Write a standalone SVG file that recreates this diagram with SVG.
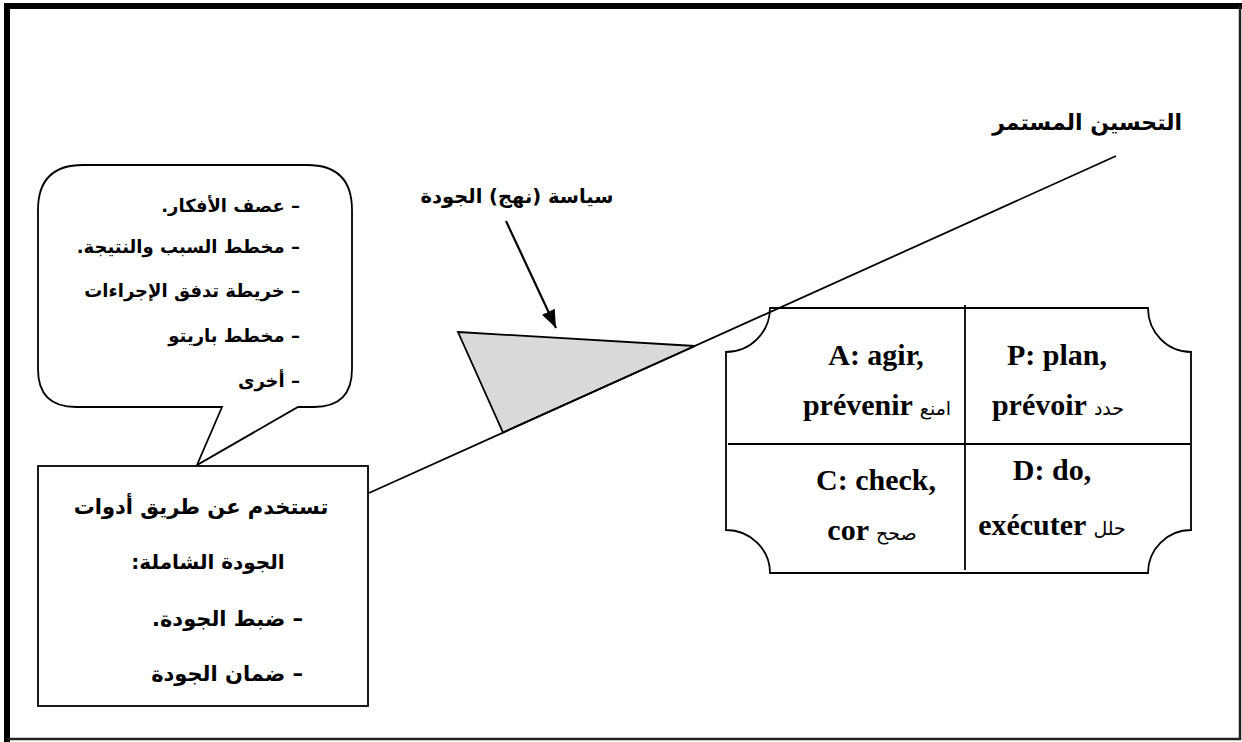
<svg xmlns="http://www.w3.org/2000/svg" width="1242" height="742" viewBox="0 0 1242 742">
<style>
.ar{font-family:"DejaVu Sans",sans-serif;font-weight:bold;fill:#000}
.arr{font-family:"DejaVu Sans",sans-serif;font-weight:normal;fill:#000}
.lat{font-family:"Liberation Serif","Times New Roman",serif;font-weight:bold;fill:#000}
.ln{fill:none;stroke:#000;stroke-width:1.8}
</style>
<defs>
<marker id="ahs" viewBox="0 0 18 14" refX="18" refY="7" markerWidth="18" markerHeight="14" markerUnits="userSpaceOnUse" orient="auto">
<path d="M0,0 L18,7 L0,14 z" fill="#000"/>
</marker>
</defs>
<rect width="1242" height="742" fill="#fff"/>
<g id="frame">
<path d="M7,742 V6 H1242" fill="none" stroke="#000" stroke-width="6"/>
<path d="M1240,6 V739 H7" fill="none" stroke="#222" stroke-width="2.5"/>
</g>
<g id="policy">
<polygon points="458,332 695,346 503,432.5" fill="#d9d9d9" stroke="#000" stroke-width="1.8" stroke-linejoin="miter"/>
<text class="ar" x="517" y="203" font-size="19.5" text-anchor="middle" direction="rtl">سياسة (نهج) الجودة</text>
</g>
<g id="connectors">
<line class="ln" x1="369" y1="493" x2="1116" y2="156"/>
<line x1="506" y1="221" x2="556" y2="328" stroke="#000" stroke-width="2.2" marker-end="url(#ahs)"/>
</g>
<g id="title">
<text class="ar" x="1182" y="130" font-size="22" direction="rtl" text-anchor="start">التحسين المستمر</text>
</g>
<g id="callout">
<path class="ln" d="M222,407 L197,465 L298,407 H314 Q352,407 352,369 V210 Q352,165 307,165 H83 Q38,165 38,210 V369 Q38,407 76,407 Z" stroke-linejoin="miter"/>
<text class="ar" x="300" y="212" font-size="18" direction="rtl" text-anchor="start">– عصف الأفكار.</text>
<text class="ar" x="300" y="253" font-size="18" direction="rtl" text-anchor="start">– مخطط السبب والنتيجة.</text>
<text class="ar" x="300" y="297" font-size="18" direction="rtl" text-anchor="start">– خريطة تدفق الإجراءات</text>
<text class="ar" x="300" y="342" font-size="18" direction="rtl" text-anchor="start">– مخطط باريتو</text>
<text class="ar" x="300" y="387" font-size="18" direction="rtl" text-anchor="start">– أخرى</text>
</g>
<g id="tools-box">
<rect class="ln" x="38" y="466" width="330" height="240"/>
<text class="ar" x="201" y="514" font-size="21" direction="rtl" text-anchor="middle">تستخدم عن طريق أدوات</text>
<text class="ar" x="208" y="569" font-size="20" direction="rtl" text-anchor="middle">الجودة الشاملة:</text>
<text class="ar" x="303" y="626" font-size="21" direction="rtl" text-anchor="start">– ضبط الجودة.</text>
<text class="ar" x="303" y="681" font-size="21" direction="rtl" text-anchor="start">– ضمان الجودة</text>
</g>
<g id="pdca">
<path class="ln" d="M770,308 H1148 A43,44 0 0 0 1191,352 V530 A43,43 0 0 0 1148,573 H770 A44,43 0 0 0 726,530 V352 A44,44 0 0 0 770,308 Z"/>
<line class="ln" x1="965" y1="305" x2="965" y2="570"/>
<line class="ln" x1="728" y1="444" x2="1190" y2="444"/>
<text class="lat" x="876" y="365" font-size="30" text-anchor="middle">A: agir,</text>
<text class="lat" x="877" y="415" font-size="30" text-anchor="middle">prévenir <tspan class="arr" font-size="19">امنع</tspan></text>
<text class="lat" x="876" y="490" font-size="30" text-anchor="middle">C: check,</text>
<text class="lat" x="872" y="540" font-size="30" text-anchor="middle">cor <tspan class="arr" font-size="19">صحح</tspan></text>
<text class="lat" x="1057" y="365" font-size="30" text-anchor="middle">P: plan,</text>
<text class="lat" x="1058" y="415" font-size="30" text-anchor="middle">prévoir <tspan class="arr" font-size="19">حدد</tspan></text>
<text class="lat" x="1052" y="480" font-size="30" text-anchor="middle">D: do,</text>
<text class="lat" x="1052" y="535" font-size="30" text-anchor="middle">exécuter <tspan class="arr" font-size="19">حلل</tspan></text>
</g>
</svg>
